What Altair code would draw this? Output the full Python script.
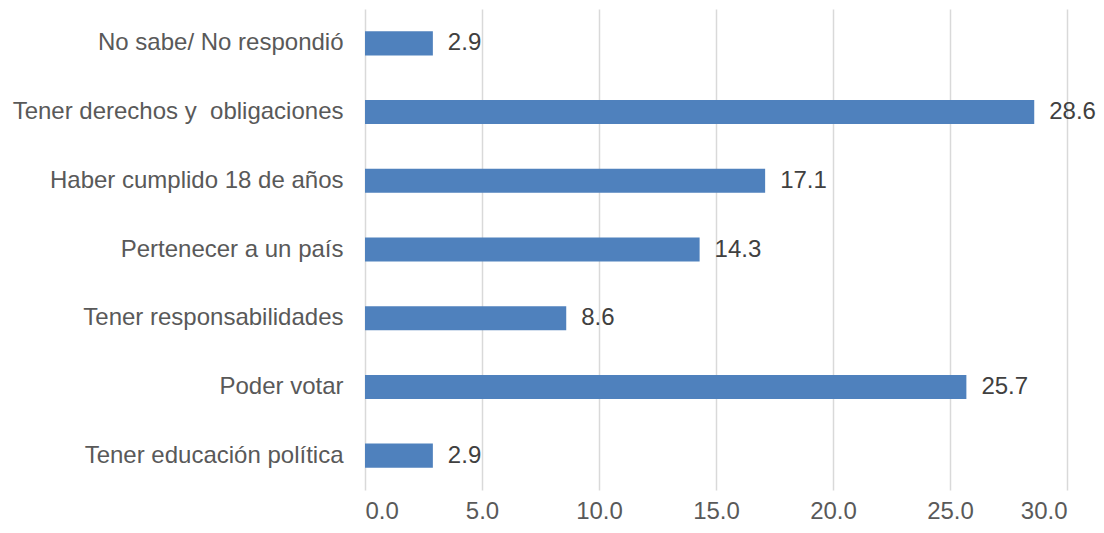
import altair as alt
import pandas as pd

categories = [
    "No sabe/ No respondió",
    "Tener derechos y\u00a0 obligaciones",
    "Haber cumplido 18 de años",
    "Pertenecer a un país",
    "Tener responsabilidades",
    "Poder votar",
    "Tener educación política",
]
values = [2.9, 28.6, 17.1, 14.3, 8.6, 25.7, 2.9]
x_ticks = [0, 5, 10, 15, 20, 25, 30]

df = pd.DataFrame({"cat": categories, "val": values})
df["lbl"] = df["val"].map(lambda v: f"{v:.1f}")

FONT = "Liberation Sans"
FS = 24

y_enc = alt.Y(
    "cat:N",
    sort=categories,
    scale=alt.Scale(paddingInner=0.65, paddingOuter=0.325),
    axis=alt.Axis(
        title=None, domain=False, ticks=False, labelPadding=22,
        labelFont=FONT, labelFontSize=FS, labelColor="#595959", labelLimit=400,
    ),
)
x_enc = alt.X(
    "val:Q",
    scale=alt.Scale(domain=[0, 30], nice=False),
    axis=alt.Axis(
        title=None, values=x_ticks, format=".1f", domain=False, ticks=False,
        grid=True, gridColor="#d9d9d9", gridWidth=1.5, labelPadding=9,
        labelFont=FONT, labelFontSize=FS, labelColor="#595959",
    ),
)

bars = alt.Chart(df).mark_bar(color="#4f81bd").encode(x=x_enc, y=y_enc)
texts = alt.Chart(df).mark_text(
    align="left", baseline="middle", dx=15, font=FONT, fontSize=FS, color="#404040"
).encode(x="val:Q", y=alt.Y("cat:N", sort=categories), text="lbl:N")

chart = (bars + texts).properties(
    width=702,
    height=481,
    autosize=alt.AutoSizeParams(type="none"),
    padding={"left": 357, "top": 1, "right": 29, "bottom": 35},
).configure_view(stroke=None)

chart.save("out.html", embed_options={"renderer": "svg", "actions": False})
